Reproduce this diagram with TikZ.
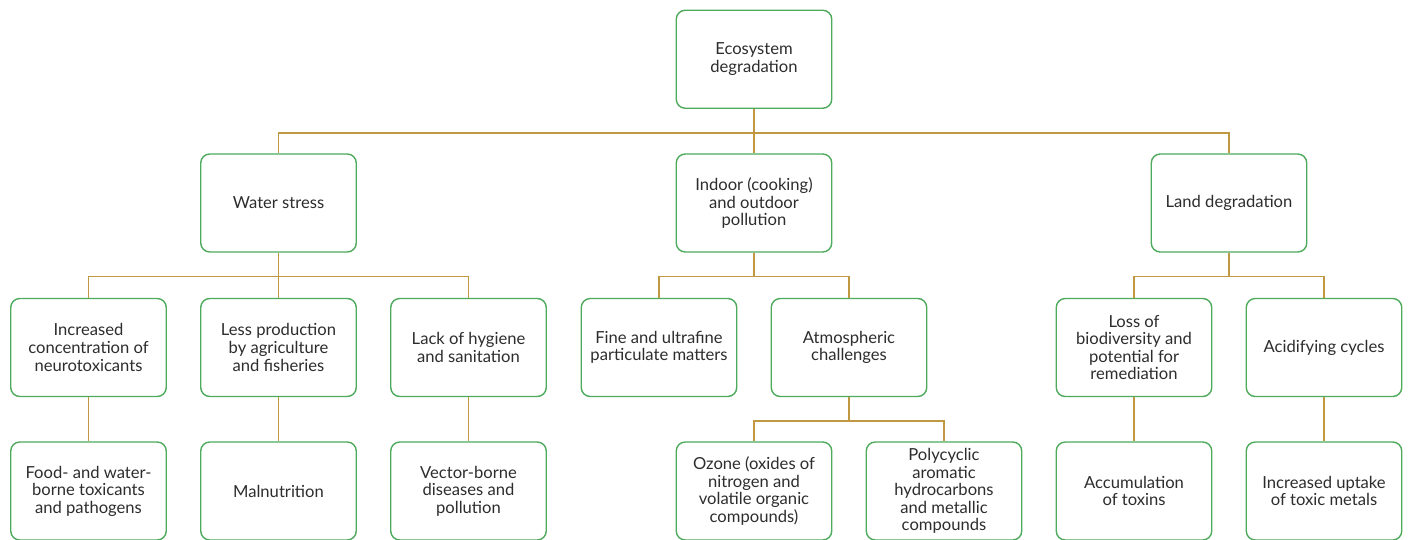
\documentclass[tikz,border=0pt]{standalone}
\usepackage{fontspec}
\setmainfont{Lato}
\definecolor{boxgreen}{RGB}{78,170,92}
\definecolor{linkgold}{RGB}{192,152,66}
\definecolor{txtgray}{RGB}{45,45,45}
\begin{document}
\begin{tikzpicture}[x=1pt,y=-1pt,
  box/.style={draw=boxgreen,line width=1.4pt,rounded corners=9pt,fill=white,
    minimum width=155.5pt,minimum height=98pt,inner sep=0pt,align=center,
    text=txtgray,font=\fontsize{16.6}{17.6}\selectfont},
  link/.style={draw=linkgold,line width=1.2pt}]
\path[use as bounding box] (0,0) rectangle (1410,539);
% row 1
\node[box] (eco) at (754,59.25) {Ecosystem\\degradation};
% row 2
\node[box] (water) at (278.5,203) {Water stress};
\node[box] (indoor) at (754,203) {Indoor (cooking)\\and outdoor\\pollution};
\node[box] (land) at (1229,203) {Land degradation};
% row 3
\node[box] (incr) at (88.5,347.5) {Increased\\concentration of\\neurotoxicants};
\node[box] (less) at (278.5,347.5) {Less production\\by agriculture\\and fisheries};
\node[box] (lack) at (468.5,347.5) {Lack of hygiene\\and sanitation};
\node[box] (fine) at (659,347.5) {Fine and ultrafine\\particulate matters};
\node[box] (atm) at (849,347.5) {Atmospheric\\challenges};
\node[box] (loss) at (1134,347.5) {Loss of\\biodiversity and\\potential for\\remediation};
\node[box] (acid) at (1324,347.5) {Acidifying cycles};
% row 4
\node[box] (food) at (88.5,491) {Food- and water-\\borne toxicants\\and pathogens};
\node[box] (mal) at (278.5,491) {Malnutrition};
\node[box] (vect) at (468.5,491) {Vector-borne\\diseases and\\pollution};
\node[box] (ozone) at (754,491) {Ozone (oxides of\\nitrogen and\\volatile organic\\compounds)};
\node[box] (poly) at (944,491) {Polycyclic\\aromatic\\hydrocarbons\\and metallic\\compounds};
\node[box] (accum) at (1134,491) {Accumulation\\of toxins};
\node[box] (upt) at (1324,491) {Increased uptake\\of toxic metals};
% junctions
\coordinate (j0) at (754,133);
\coordinate (jw) at (278.5,276.5);
\coordinate (ji) at (754,276.5);
\coordinate (jl) at (1229,276.5);
\coordinate (ja) at (849,421);
% connectors
\draw[link] (eco.south) -- (indoor.north);
\draw[link] (water.north) |- (j0) -| (land.north);
\draw[link] (water.south) -- (less.north);
\draw[link] (incr.north) |- (jw) -| (lack.north);
\draw[link] (indoor.south) -- (ji);
\draw[link] (fine.north) |- (ji) -| (atm.north);
\draw[link] (land.south) -- (jl);
\draw[link] (loss.north) |- (jl) -| (acid.north);
\draw[link] (atm.south) -- (ja);
\draw[link] (ozone.north) |- (ja) -| (poly.north);
\draw[link] (incr.south) -- (food.north);
\draw[link] (less.south) -- (mal.north);
\draw[link] (lack.south) -- (vect.north);
\draw[link] (loss.south) -- (accum.north);
\draw[link] (acid.south) -- (upt.north);
\end{tikzpicture}
\end{document}
